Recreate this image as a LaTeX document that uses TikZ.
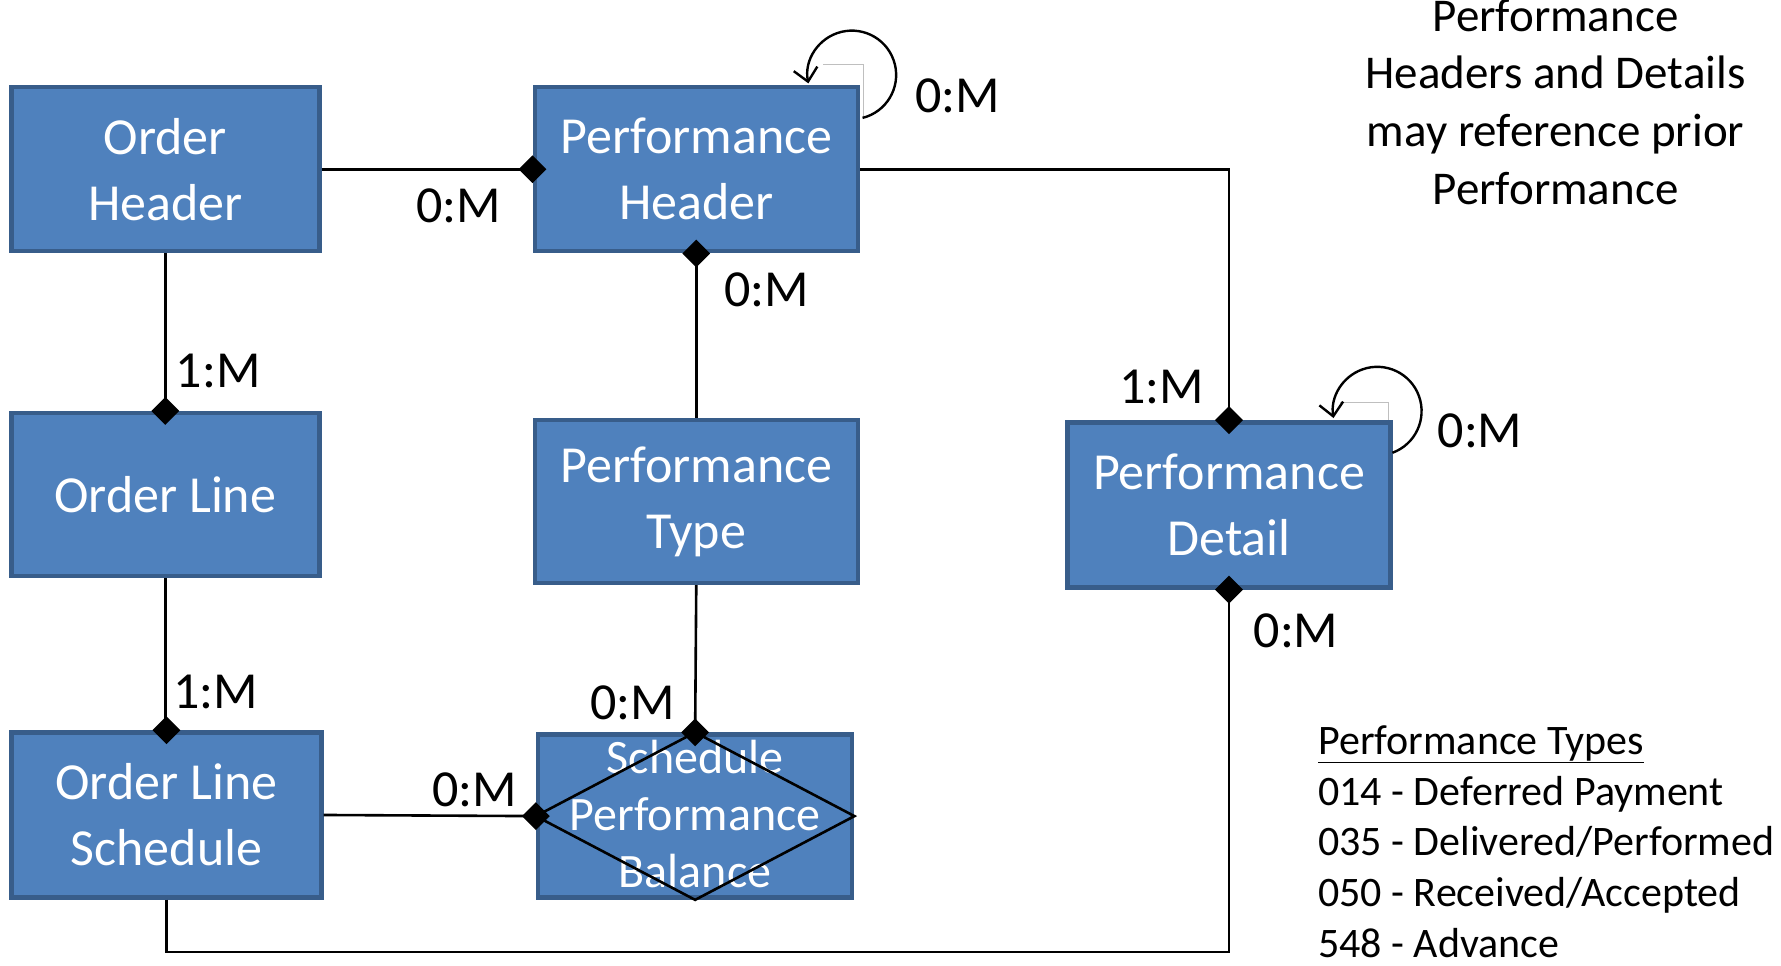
\documentclass[tikz,border=0pt]{standalone}
\usepackage{fontspec}
\setmainfont{Carlito}
\usetikzlibrary{shapes.geometric,arrows.meta}
\definecolor{boxfill}{HTML}{4F81BD}
\definecolor{boxline}{HTML}{385D8A}
\begin{document}
\begin{tikzpicture}[x=1.1358pt,y=-1.1358pt,
  entity/.style={rectangle, fill=boxfill, draw=boxline, line width=4.5pt, text=white, align=center, font=\fontsize{52}{66}\selectfont, inner sep=0pt},
  conn/.style={draw=black, line width=2.6pt},
  card/.style={font=\fontsize{52}{60}\selectfont, inner sep=0pt},
  dmd/.style={diamond, fill=black, minimum width=28pt, minimum height=28pt, inner sep=0pt},
  loopline/.style={line width=2.4pt, -{Straight Barb[length=13pt,width=24pt]}},
  ghost/.style={draw=black!25, line width=1pt}
]
\useasboundingbox (0,0) rectangle (1568,850);

% entities
\node[entity, minimum width=308pt, minimum height=164pt] (OH) at (145.5,149) {Order\\Header};
\node[entity, minimum width=323pt, minimum height=164pt] (PH) at (613,149) {Performance\\Header};
\node[entity, minimum width=308pt, minimum height=163pt] (OL) at (145.5,435.5) {Order Line};
\node[entity, minimum width=323pt, minimum height=163pt] (PT) at (613,441.5) {Performance\\Type};
\node[entity, minimum width=323pt, minimum height=165pt] (PD) at (1082,444.5) {Performance\\Detail};
\node[entity, minimum width=310pt, minimum height=165pt] (OLS) at (146.5,717.5) {Order Line\\Schedule};
\node[entity, minimum width=314pt, minimum height=163pt] (SPB) at (612,718.5) {};
\node[text=white, align=center, inner sep=0pt, font=\fontsize{48}{57}\selectfont] (SPBtext) at (612,716.5) {Schedule\\Performance\\Balance};

% relationship diamond inside SPB
\draw[conn] (SPB.west) -- (SPB.north) -- (SPB.east) -- (SPB.south) -- cycle;

% connectors
\coordinate (bot) at (1081,838);
\draw[conn] (OH.east) -- (PH.west);
\draw[conn] (OH.south) -- (OL.north);
\draw[conn] (OL.south) -- (OL.south |- OLS.north);
\draw[conn] (PH.south) -- (PT.north);
\draw[conn] (PT.south) -- (SPB.north);
\draw[conn] (OLS.east) -- (SPB.west);
\draw[conn] (PH.east) -| (PD.north);
\draw[conn] (OLS.south) |- (PD.south |- bot) -- (PD.south);

% self loops
\coordinate (phloop) at (759.4,103.8);
\coordinate (pdloop) at (1225.9,398.6);
\draw[ghost] (725,57) -- (760,57) -- (760,105);
\draw[ghost] (1180,354) -- (1222,354) -- (1222,370);
\draw[loopline] (phloop) arc[start angle=76, end angle=-191, radius=39];
\draw[loopline] (pdloop) arc[start angle=70, end angle=-189, radius=39];

% diamond ends
\node[dmd] (d1) at (PH.west) {};
\node[dmd] (d2) at (PH.south) {};
\node[dmd] (d3) at (OL.north) {};
\node[dmd] (d4) at (PD.north) {};
\node[dmd] (d5) at (PD.south) {};
\node[dmd] (d6) at (OLS.north) {};
\node[dmd] (d7) at (SPB.north) {};
\node[dmd] (d8) at (SPB.west) {};

% cardinalities
\node[card] (c1) at (404,181) {0:M};
\node[card] (c2) at (843,84) {0:M};
\node[card] (c3) at (675,255) {0:M};
\node[card] (c4) at (192,327) {1:M};
\node[card] (c5) at (1023,341) {1:M};
\node[card] (c6) at (1303,379) {0:M};
\node[card] (c7) at (1141,555) {0:M};
\node[card] (c8) at (190,609) {1:M};
\node[card] (c9) at (557,619) {0:M};
\node[card] (c10) at (418,695) {0:M};

% notes
\node[font=\fontsize{47}{57.7}\selectfont, align=center, anchor=base, inner sep=0pt] (note) at (1369.5,179.7) {Performance\\Headers and Details\\may reference prior\\Performance};
\node[font=\fontsize{42}{50.8}\selectfont, align=left, anchor=base west, inner sep=0pt] (legend) at (1160.4,843) {\underline{Performance Types}\\014 - Deferred Payment\\035 - Delivered/Performed\\050 - Received/Accepted\\548 - Advance};
\end{tikzpicture}
\end{document}
